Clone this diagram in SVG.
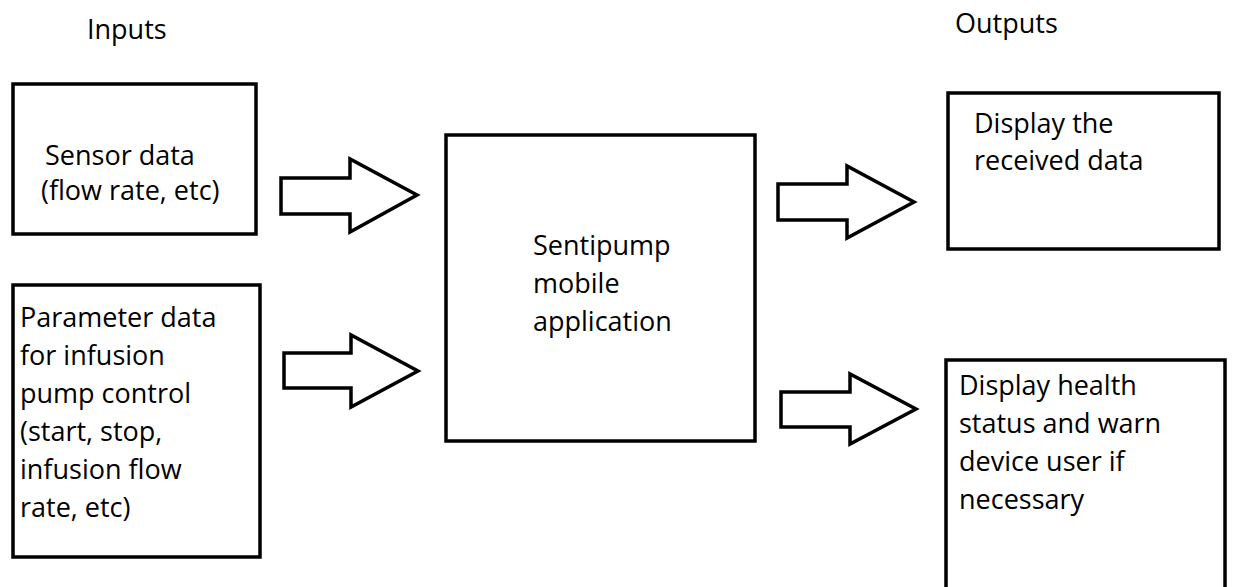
<svg xmlns="http://www.w3.org/2000/svg" width="1233" height="587" viewBox="0 0 1233 587">
  <style>
    .box { fill: #ffffff; stroke: #000000; stroke-width: 3.5; }
    .arrow { fill: #ffffff; stroke: #000000; stroke-width: 3.5; stroke-linejoin: miter; }
    .label { font-family: "Open Sans", "Noto Sans", sans-serif; font-size: 27px; fill: #000000; }
  </style>
  <rect width="1233" height="587" fill="#ffffff"/>

  <!-- column headings -->
  <text class="label" x="87" y="39">Inputs</text>
  <text class="label" x="955" y="33">Outputs</text>

  <g id="sensor-data">
    <rect class="box" x="13" y="84" width="243" height="150"/>
    <text class="label" x="45" y="165">Sensor data</text>
    <text class="label" x="41" y="200">(flow rate, etc)</text>
  </g>

  <g id="parameter-data">
    <rect class="box" x="13" y="285" width="247" height="272"/>
    <text class="label" x="20" y="327">Parameter data</text>
    <text class="label" x="20" y="365">for infusion</text>
    <text class="label" x="20" y="403">pump control</text>
    <text class="label" x="20" y="441">(start, stop,</text>
    <text class="label" x="20" y="479">infusion flow</text>
    <text class="label" x="20" y="517">rate, etc)</text>
  </g>

  <g id="mobile-app">
    <rect class="box" x="446" y="135" width="309" height="306"/>
    <text class="label" x="533" y="255">Sentipump</text>
    <text class="label" x="533" y="293">mobile</text>
    <text class="label" x="533" y="331">application</text>
  </g>

  <g id="display-data">
    <rect class="box" x="948" y="93" width="271" height="156"/>
    <text class="label" x="974" y="133">Display the</text>
    <text class="label" x="974" y="170">received data</text>
  </g>

  <g id="health-status">
    <rect class="box" x="946" y="360" width="279" height="240"/>
    <text class="label" x="959" y="395">Display health</text>
    <text class="label" x="959" y="433">status and warn</text>
    <text class="label" x="959" y="471">device user if</text>
    <text class="label" x="959" y="509">necessary</text>
  </g>

  <!-- block arrows between stages -->
  <g id="connectors">
    <polygon class="arrow" points="281,178 350,178 350,159 417,195 350,232 350,214 281,214"/>
    <polygon class="arrow" points="284,353 351,353 351,335 418,371 351,407 351,388 284,388"/>
    <polygon class="arrow" points="778,184 847,184 847,166 914,202 847,238 847,220 778,220"/>
    <polygon class="arrow" points="781,392 850,392 850,374 916,409 850,444 850,427 781,427"/>
  </g>
</svg>
